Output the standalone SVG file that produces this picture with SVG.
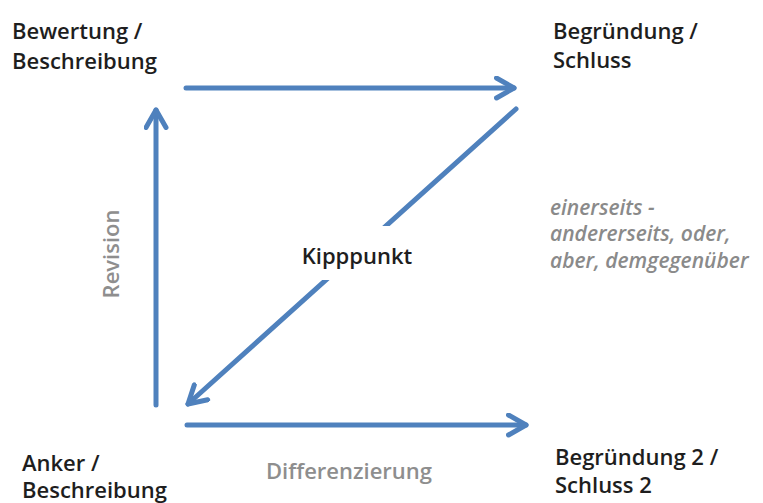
<svg xmlns="http://www.w3.org/2000/svg" width="763" height="503" viewBox="0 0 763 503">
<style>
.lbl{font-family:"Open Sans","Liberation Sans",sans-serif;font-size:22px;font-weight:600;fill:#1e1e1e}
.note{font-family:"Open Sans","Liberation Sans",sans-serif;font-size:21px;font-weight:600;fill:#8a8a8a;font-style:italic}
.gray{font-family:"Open Sans","Liberation Sans",sans-serif;font-size:22px;font-weight:600;fill:#8e8e8e}
.arr{stroke:#4f81bd;stroke-width:5;fill:none;stroke-linecap:round;marker-end:url(#ah)}
</style>
<defs>
<marker id="ah" viewBox="0 0 10 10" refX="8" refY="5" markerWidth="5" markerHeight="5" orient="auto" markerUnits="strokeWidth">
<path d="M1,1 L8,5 L1,9" fill="none" stroke="#4f81bd" stroke-width="2" stroke-linecap="round" stroke-linejoin="round"/>
</marker>
</defs>
<rect width="763" height="503" fill="#ffffff"/>
<g id="connectors">
<path class="arr" d="M186,88 L514,88"/>
<path class="arr" d="M156,405 L156,110"/>
<path class="arr" d="M187,425 L526,425"/>
<path class="arr" d="M516,109 L188,404"/>
</g>
<g id="kipppunkt-label">
<rect x="296" y="226" width="124" height="54" fill="#ffffff"/>
<text class="lbl" x="357" y="264" text-anchor="middle" font-size="21">Kipppunkt</text>
</g>
<g id="bewertung">
<text class="lbl" x="12" y="39">Bewertung /</text>
<text class="lbl" x="12" y="69">Beschreibung</text>
</g>
<g id="begruendung">
<text class="lbl" x="553" y="39">Begründung /</text>
<text class="lbl" x="553" y="68">Schluss</text>
</g>
<g id="anker">
<text class="lbl" x="22" y="471">Anker /</text>
<text class="lbl" x="22" y="498">Beschreibung</text>
</g>
<g id="begruendung2">
<text class="lbl" x="555" y="465">Begründung 2 /</text>
<text class="lbl" x="555" y="493">Schluss 2</text>
</g>
<g id="note">
<text class="note" x="550" y="215">einerseits -</text>
<text class="note" x="550" y="241">andererseits, oder,</text>
<text class="note" x="550" y="268">aber, demgegenüber</text>
</g>
<text class="gray" x="349" y="479" text-anchor="middle">Differenzierung</text>
<text class="gray" transform="translate(119,254) rotate(-90)" text-anchor="middle">Revision</text>
</svg>
